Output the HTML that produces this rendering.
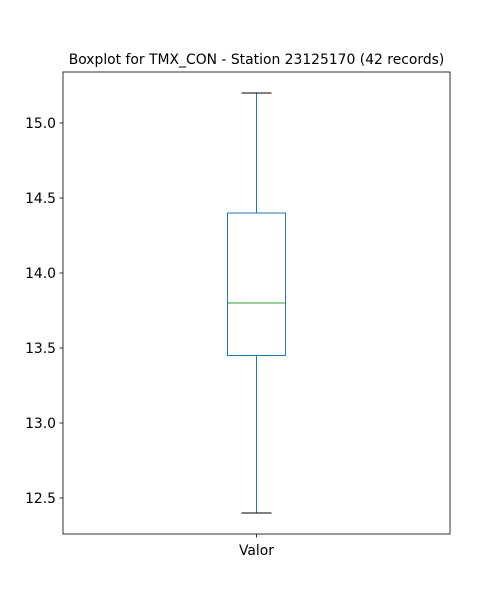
<!DOCTYPE html>
<html><head><meta charset="utf-8"><style>body{margin:0;background:#fff}svg{display:block}text{font-family:"DejaVu Sans","Liberation Sans",sans-serif}</style></head>
<body>
<svg id="chart" width="500" height="600" viewBox="0 0 500 600" xmlns="http://www.w3.org/2000/svg">
<text x="256.5" y="64" font-size="13.9" text-anchor="middle">Boxplot for TMX_CON - Station 23125170 (42 records)</text>
<rect x="63" y="72" width="387" height="462" fill="none" stroke="#000" stroke-width="0.8"/>
<g id="yaxis"></g>
<g id="box"></g>
<line x1="256.5" y1="534" x2="256.5" y2="537.5" stroke="#000" stroke-width="0.8"/>
<text x="256.5" y="555" font-size="13.9" text-anchor="middle">Valor</text>
</svg>
<script>
const yTicks=[12.5,13.0,13.5,14.0,14.5,15.0];
const yTickLabels=["12.5","13.0","13.5","14.0","14.5","15.0"];
const whiskerLow=[12.4];
const q1=[13.45];
const median=[13.8];
const q3=[14.4];
const whiskerHigh=[15.2];
const yMin=12.26,yMax=15.34,plotTop=72,plotBottom=534;
function y(v){return plotBottom-(v-yMin)/(yMax-yMin)*(plotBottom-plotTop);}
const NS="http://www.w3.org/2000/svg";
function mk(t,a,p){const e=document.createElementNS(NS,t);for(const k in a)e.setAttribute(k,a[k]);p.appendChild(e);return e;}
const ya=document.getElementById('yaxis');
yTicks.forEach((v,i)=>{
 const l=mk('line',{x1:59.5,x2:63,y1:y(v),y2:y(v),stroke:'#000','stroke-width':0.8},ya);
 
 
 const t=mk('text',{x:56,y:y(v)+5,'font-size':13.9,'text-anchor':'end'},ya);
 t.textContent=yTickLabels[i];
 
 
});
const b=document.getElementById('box');
const cx=256.5,bw=29,cw=15,c='#1f77b4';
const r=mk('rect',{x:cx-bw,y:y(q3[0]),width:2*bw,height:y(q1[0])-y(q3[0]),fill:'none',stroke:c,'stroke-width':1},b);


const w1=mk('line',{x1:cx,x2:cx,y1:y(q3[0]),y2:y(whiskerHigh[0]),stroke:c},b);


const w2=mk('line',{x1:cx,x2:cx,y1:y(q1[0]),y2:y(whiskerLow[0]),stroke:c},b);


const c1=mk('line',{x1:cx-cw,x2:cx+cw,y1:y(whiskerHigh[0]),y2:y(whiskerHigh[0]),stroke:'#000'},b);


const c2=mk('line',{x1:cx-cw,x2:cx+cw,y1:y(whiskerLow[0]),y2:y(whiskerLow[0]),stroke:'#000'},b);


const m=mk('line',{x1:cx-bw,x2:cx+bw,y1:y(median[0]),y2:y(median[0]),stroke:'#2ca02c'},b);


</script>
</body></html>
